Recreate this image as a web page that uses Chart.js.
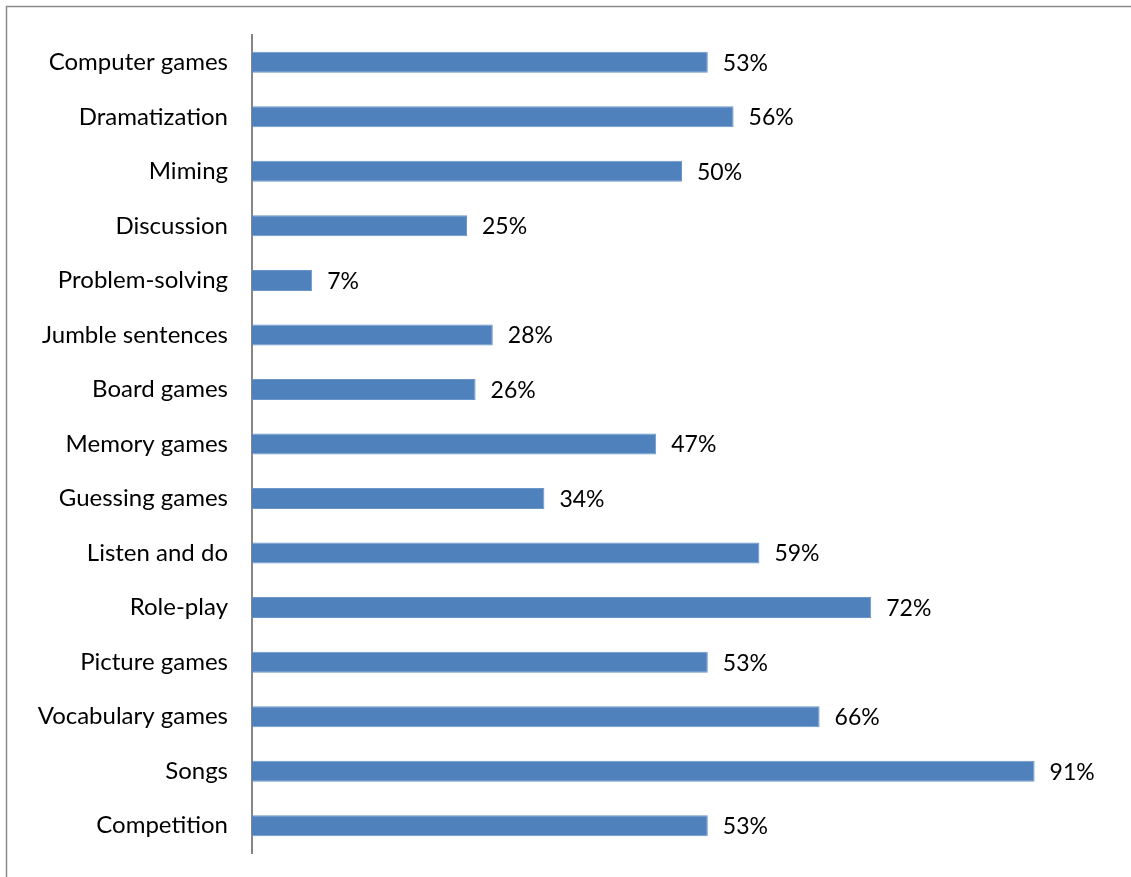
<!DOCTYPE html>
<html>
<head>
<meta charset="utf-8">
<script src="https://cdn.jsdelivr.net/npm/chart.js@4"></script>
<style>
    html, body { margin: 0; padding: 0; background: #fff; overflow: hidden; }
    #wrap { width: 1131px; height: 877px; }
</style>
</head>
<body>
<div id="wrap"><canvas id="games-chart" width="1131" height="877"></canvas></div>
<script>
const categories = [
    'Computer games', 'Dramatization', 'Miming', 'Discussion', 'Problem-solving',
    'Jumble sentences', 'Board games', 'Memory games', 'Guessing games', 'Listen and do',
    'Role-play', 'Picture games', 'Vocabulary games', 'Songs', 'Competition',
];
const percentValues = [53, 56, 50, 25, 7, 28, 26, 47, 34, 59, 72, 53, 66, 91, 53];
const axisMin = 0;
const axisMax = 100;

const fontFamily = 'Lato, "Open Sans", sans-serif';

// outer frame like the Excel chart area
const framePlugin = {
    id: 'frame',
    beforeDraw(chart) {
        const { ctx } = chart;
        ctx.save();
        ctx.fillStyle = '#fff';
        ctx.fillRect(0, 0, chart.width, chart.height);
        ctx.strokeStyle = '#8c8c8c';
        ctx.lineWidth = 1.5;
        ctx.strokeRect(6.5, 6.5, chart.width + 20, chart.height + 20);
        ctx.restore();
    },
};

// value labels to the right of each bar
const valueLabelPlugin = {
    id: 'valueLabels',
    afterDatasetsDraw(chart) {
        const { ctx } = chart;
        const meta = chart.getDatasetMeta(0);
        ctx.save();
        ctx.font = `23px ${fontFamily}`;
        ctx.fillStyle = '#000';
        ctx.textAlign = 'left';
        ctx.textBaseline = 'middle';
        meta.data.forEach((bar, i) => {
            ctx.fillText(`${percentValues[i]}%`, bar.x + 15, bar.y + 1);
        });
        ctx.restore();
    },
};

const ctx = document.getElementById('games-chart').getContext('2d');
new Chart(ctx, {
    type: 'bar',
    data: {
        labels: categories,
        datasets: [
            {
                data: percentValues,
                backgroundColor: '#4f81bd',
                borderColor: '#6a95c9',
                borderWidth: 1,
                categoryPercentage: 1,
                barPercentage: 0.385,
            },
        ],
    },
    options: {
        indexAxis: 'y',
        responsive: false,
        animation: false,
        layout: {
            padding: { left: 0, right: 19, top: 35, bottom: 24 },
        },
        plugins: {
            legend: { display: false },
            tooltip: { enabled: false },
        },
        scales: {
            x: {
                display: false,
                min: axisMin,
                max: axisMax,
            },
            y: {
                afterFit(scale) {
                    scale.width = 252;
                    scale.paddingTop = 0;
                    scale.paddingBottom = 0;
                },
                grid: { display: false, drawTicks: false },
                border: { display: true, color: '#868686', width: 2 },
                ticks: {
                    color: '#000',
                    padding: 24,
                    font: { family: fontFamily, size: 24 },
                },
            },
        },
    },
    plugins: [framePlugin, valueLabelPlugin],
});
</script>
</body>
</html>
